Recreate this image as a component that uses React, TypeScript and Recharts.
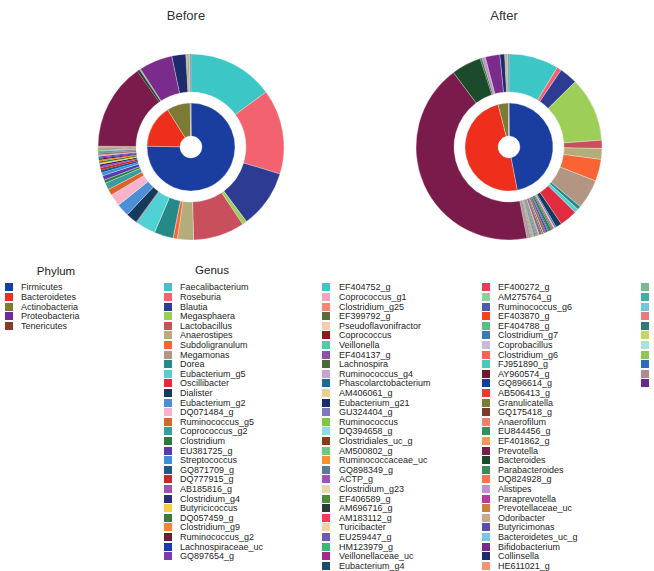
import React from "react";
import { PieChart, Pie, Cell } from "recharts";

// phylum level (inner ring)
const phylumNames = ["Firmicutes", "Bacteroidetes", "Actinobacteria", "Proteobacteria", "Tenericutes"];
const phylumColors = ["#1a3ea0", "#ee2f1c", "#7c7a34", "#6a2d9b", "#8a3b27"];
const phylumBefore = [75.3, 15.8, 8.6, 0.15, 0.15];
const phylumAfter = [47.0, 49.0, 3.8, 0.1, 0.1];

// genus level (outer ring), legend order
const genusNames = [
	"Faecalibacterium", "Roseburia", "Blautia", "Megasphaera", "Lactobacillus", "Anaerostipes",
	"Subdoligranulum", "Megamonas", "Dorea", "Eubacterium_g5", "Oscillibacter", "Dialister",
	"Eubacterium_g2", "DQ071484_g", "Ruminococcus_g5", "Coprococcus_g2", "Clostridium", "EU381725_g",
	"Streptococcus", "GQ871709_g", "DQ777915_g", "AB185816_g", "Clostridium_g4", "Butyricicoccus",
	"DQ057459_g", "Clostridium_g9", "Ruminococcus_g2", "Lachnospiraceae_uc", "GQ897654_g",
	"EF404752_g", "Coprococcus_g1", "Clostridium_g25", "EF399792_g", "Pseudoflavonifractor", "Coprococcus",
	"Veillonella", "EF404137_g", "Lachnospira", "Ruminococcus_g4", "Phascolarctobacterium", "AM406061_g",
	"Eubacterium_g21", "GU324404_g", "Ruminococcus", "DQ394658_g", "Clostridiales_uc_g", "AM500802_g",
	"Ruminococcaceae_uc", "GQ898349_g", "ACTP_g", "Clostridium_g23", "EF406589_g", "AM696716_g",
	"AM183112_g", "Turicibacter", "EU259447_g", "HM123979_g", "Veillonellaceae_uc", "Eubacterium_g4",
	"EF400272_g", "AM275764_g", "Ruminococcus_g6", "EF403870_g", "EF404788_g", "Clostridium_g7",
	"Coprobacillus", "Clostridium_g6", "FJ951890_g", "AY960574_g", "GQ896614_g", "AB506413_g",
	"Granulicatella", "GQ175418_g", "Anaerofilum", "EU844456_g", "EF401862_g", "Prevotella",
	"Bacteroides", "Parabacteroides", "DQ824928_g", "Alistipes", "Paraprevotella", "Prevotellaceae_uc",
	"Odoribacter", "Butyricimonas", "Bacteroidetes_uc_g", "Bifidobacterium", "Collinsella", "HE611021_g",
];
const genusColors = [
	"#3cc6c6", "#f2636f", "#2d3c92", "#9dcf58", "#c94f5d", "#b4ad79",
	"#fa6434", "#b39584", "#258a87", "#50d2d4", "#e02c3e", "#163a5c",
	"#4b8fd6", "#f7b3c9", "#e0622b", "#3b9c9b", "#2b7b3b", "#5b3bab",
	"#3b90da", "#1b5b89", "#c22b2b", "#a352b3", "#2b2b7b", "#f9cd42",
	"#3b7b3b", "#fa8232", "#6b1b3b", "#1b3bab", "#7b3bab",
	"#3cc8c8", "#f8a2ba", "#f88472", "#5b6b3b", "#f9c9b1", "#8b1b1b",
	"#52c9a9", "#8b52a9", "#4b6b3b", "#c9a2d1", "#1b6b8b", "#e9d192",
	"#1b2b6b", "#7b79b9", "#7bc942", "#92d9e1", "#8b3b1b", "#6bc982",
	"#f9922b", "#5b7b9b", "#a352b9", "#e9d9a9", "#4b8b3b", "#2b3b3b",
	"#f93b5b", "#f1d1a9", "#6b5bb9", "#3bb972", "#a32b8b", "#1b4b6b",
	"#f13b5b", "#8bd199", "#4b5bb1", "#f9421b", "#52c182", "#3b7bb1",
	"#c9b9d9", "#f96252", "#4bc9b9", "#6b1b2b", "#1b3b9b", "#e93b2b",
	"#7b7b3b", "#7b3b2b", "#f97b6b", "#3b8b5b", "#f9925b", "#7b1b4b",
	"#1b4b2b", "#3b8b5b", "#f97252", "#c192d1", "#b93b9b", "#c98242",
	"#c9a98a", "#5b4bb1", "#72c9e1", "#7b2b8b", "#1b2b6b", "#f99272",
];
const genusBefore = [
	14.9, 14.7, 10.1, 0.8, 8.9, 2.8,
	0.7, 0.05, 3.3, 3.5, 0.1, 2.0,
	2.2, 2.1, 1.1, 1.2, 0.55, 0.8,
	0.55, 0.4, 0.4, 0.3, 0.3, 0.3,
	0.25, 0.25, 0.2, 0.2, 0.2,
	0.1, 0.08, 0.06, 0.05, 0.07, 0.12,
	0.04, 0.06, 0.05, 0.03, 0.09, 0.04,
	0.05, 0.03, 0.06, 0.04, 0.03, 0.05,
	0.04, 0.03, 0.03, 0.04, 0.02, 0.03,
	0.05, 0.02, 0.03, 0.02, 0.02, 0.03,
	0.03, 0.02, 0.03, 0.02, 0.02, 0.03,
	0.02, 0.02, 0.02, 0.02, 0.02, 0.02,
	0.02, 0.02, 0.02, 0.02, 0.02, 15.0,
	0.4, 0.1, 0.02, 0.05, 0.02, 0.02,
	0.02, 0.02, 0.02, 5.8, 2.4, 0.1,
];
const genusAfter = [
	8.6, 0.8, 3.1, 11.1, 1.4, 1.9,
	3.75, 5.1, 0.6, 0.7, 3.05, 1.0,
	0.28, 0.22, 0.22, 0.28, 0.33, 0.17,
	0.17, 0.22, 0.14, 0.22, 0.11, 0.14,
	0.17, 0.14, 0.08, 0.11, 0.14,
	0.08, 0.1, 0.06, 0.08, 0.05, 0.07,
	0.09, 0.05, 0.1, 0.06, 0.12, 0.05,
	0.04, 0.06, 0.08, 0.05, 0.04, 0.06,
	0.07, 0.04, 0.06, 0.05, 0.04, 0.03,
	0.04, 0.05, 0.03, 0.04, 0.03, 0.04,
	0.04, 0.03, 0.04, 0.03, 0.03, 0.03,
	0.02, 0.03, 0.02, 0.02, 0.03, 0.02,
	0.02, 0.02, 0.02, 0.02, 0.02, 42.5,
	5.1, 0.3, 0.05, 0.4, 0.05, 0.04,
	0.04, 0.03, 0.03, 2.5, 0.8, 0.1,
];

// last legend column: swatches whose labels fall outside the picture
const extraColors = ["#7cb992", "#3cb1a9", "#6cc9d9", "#e97a82", "#2b7b7b", "#c1d962", "#a9e1e1", "#8bc952", "#2b6bb9", "#b18a92", "#6b2b8b"];
const extraBefore = [0.1, 0.05, 0.05, 0.15, 0.05, 0.1, 0.05, 0.05, 0.05, 0.1, 0.05];
const extraAfter = [0.08, 0.05, 0.05, 0.1, 0.05, 0.06, 0.05, 0.05, 0.05, 0.06, 0.05];

const FONT = '"Liberation Sans", Arial, sans-serif';
const ROW = 9.6;
const TOP = 287.3;

const makePhylum = (vals: number[]) =>
	phylumNames.map((name, i) => ({ name, value: vals[i], color: phylumColors[i] }));

const makeGenus = (vals: number[], extra: number[]) => [
	...genusNames.map((name, i) => ({ name, value: vals[i], color: genusColors[i] })),
	...extraColors.map((color, i) => ({ name: `extra_${i}`, value: extra[i], color })),
];

const donuts = [
	{ title: "Before", cx: 186, phylum: makePhylum(phylumBefore), genus: makeGenus(genusBefore, extraBefore) },
	{ title: "After", cx: 504, phylum: makePhylum(phylumAfter), genus: makeGenus(genusAfter, extraAfter) },
];

function LegendRow({ x, textX, i, color, label }: any) {
	const cy = TOP + i * ROW;
	return (
		<>
			<div style={{ position: "absolute", left: x, top: cy - 4, width: 8, height: 8, background: color }} />
			{label && (
				<div
					style={{
						position: "absolute",
						left: textX,
						top: cy - 6,
						fontSize: 9,
						lineHeight: "12px",
						color: "#1e1e1e",
						whiteSpace: "nowrap",
					}}
				>
					{label}
				</div>
			)}
		</>
	);
}

export default function App() {
	const cols = [
		{ x: 164, textX: 180, from: 0, to: 29 },
		{ x: 322, textX: 339, from: 29, to: 59 },
		{ x: 482, textX: 498, from: 59, to: 89 },
	];

	return (
		<div
			style={{
				position: "absolute",
				left: 0,
				top: 0,
				width: 654,
				height: 571,
				background: "#fff",
				fontFamily: FONT,
				overflow: "hidden",
			}}
		>
			{donuts.map((d) => (
				<div
					key={d.title}
					style={{
						position: "absolute",
						left: d.cx - 60,
						width: 120,
						top: 8,
						textAlign: "center",
						fontSize: 13,
						color: "#333",
					}}
				>
					{d.title}
				</div>
			))}

			<div style={{ position: "absolute", left: 0, top: 0 }}>
				<PieChart width={654} height={250}>
					{donuts.map((d) => (
						<Pie
							key={d.title + "-phylum"}
							data={d.phylum}
							dataKey="value"
							cx={d.cx}
							cy={142}
							innerRadius={11}
							outerRadius={44}
							startAngle={90}
							endAngle={-270}
							stroke="#fff"
							strokeWidth={0.3}
							isAnimationActive={false}
						>
							{d.phylum.map((entry, index) => (
								<Cell key={`p-${index}`} fill={entry.color} />
							))}
						</Pie>
					))}
					{donuts.map((d) => (
						<Pie
							key={d.title + "-genus"}
							data={d.genus}
							dataKey="value"
							cx={d.cx}
							cy={142}
							innerRadius={55}
							outerRadius={93}
							startAngle={90}
							endAngle={-270}
							isAnimationActive={false}
						>
							{d.genus.map((entry, index) => (
								<Cell
									key={`g-${index}`}
									fill={entry.color}
									stroke={entry.value < 0.5 ? "none" : "#fff"}
									strokeWidth={0.3}
								/>
							))}
						</Pie>
					))}
				</PieChart>
			</div>

			{/* Phylum legend */}
			<div
				style={{ position: "absolute", left: 16, width: 80, top: 265, textAlign: "center", fontSize: 11.5, color: "#222" }}
			>
				Phylum
			</div>
			{phylumNames.map((name, i) => (
				<LegendRow key={name} x={5} textX={21} i={i} color={phylumColors[i]} label={name} />
			))}

			{/* Genus legend */}
			<div
				style={{ position: "absolute", left: 172, width: 80, top: 264, textAlign: "center", fontSize: 11.5, color: "#222" }}
			>
				Genus
			</div>
			{cols.map((c) =>
				genusNames.slice(c.from, c.to).map((name, k) => (
					<LegendRow key={name} x={c.x} textX={c.textX} i={k} color={genusColors[c.from + k]} label={name} />
				))
			)}
			{extraColors.map((color, i) => (
				<LegendRow key={`extra-${i}`} x={641} textX={657} i={i} color={color} label="" />
			))}
		</div>
	);
}
